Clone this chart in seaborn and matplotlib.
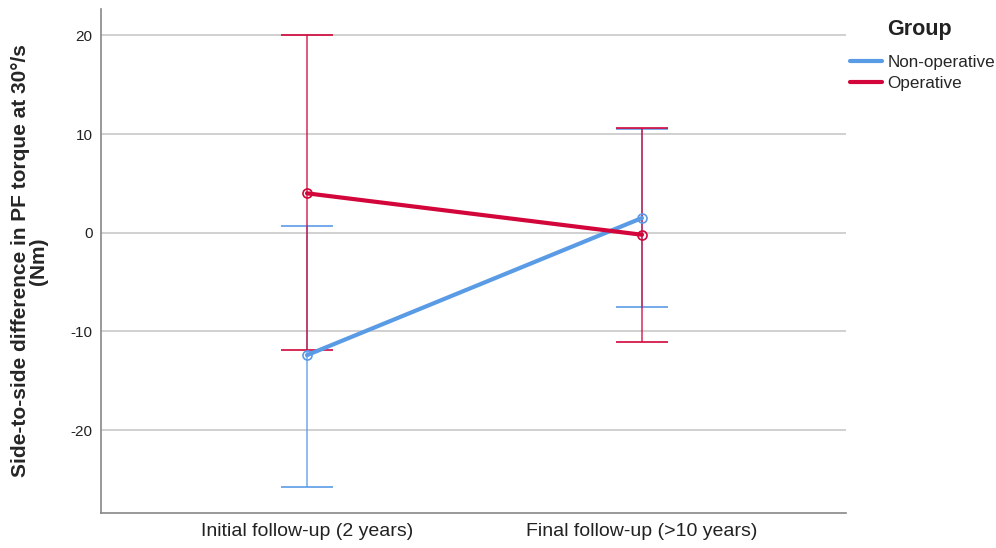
import numpy as np
import pandas as pd
import matplotlib
matplotlib.use("Agg")
import matplotlib.pyplot as plt
import seaborn as sns

# valores (média e IC 95%)
timepoints = ["Initial follow-up (2 years)", "Final follow-up (>10 years)"]
groups = ["Non-operative", "Operative"]
nonop_mean = [-12.4, 1.5]
nonop_lower = [-25.8, -7.5]
nonop_upper = [0.7, 10.5]
op_mean = [4.0, -0.2]
op_lower = [-11.9, -11.1]
op_upper = [20.0, 10.6]

colors = {"Non-operative": "#5A9BE6", "Operative": "#D2063A"}

df = pd.DataFrame({
    "Time": timepoints * 2,
    "Group": [groups[0]] * 2 + [groups[1]] * 2,
    "Mean": nonop_mean + op_mean,
    "Lower": nonop_lower + op_lower,
    "Upper": nonop_upper + op_upper,
})
df["x"] = df["Time"].map({t: i for i, t in enumerate(timepoints)})

sns.set_style("white")
plt.rcParams["font.family"] = ["Liberation Sans", "DejaVu Sans"]

fig = plt.figure(figsize=(9.96, 5.48), dpi=100)
ax = fig.add_axes([0.1014, 0.0639, 0.748, 0.920])

for y in [-20, -10, 0, 10, 20]:
    ax.axhline(y, color="#c8c8c8", lw=1.2, zorder=0)

# barras de erro
for g in groups:
    sub = df[df["Group"] == g]
    ax.errorbar(sub["x"], sub["Mean"],
                yerr=[sub["Mean"] - sub["Lower"], sub["Upper"] - sub["Mean"]],
                fmt="none", ecolor=colors[g], elinewidth=1.1, capsize=18.4,
                capthick=1.4, alpha=0.85, zorder=2)

sns.lineplot(data=df, x="x", y="Mean", hue="Group", palette=colors,
             hue_order=groups, lw=3, ax=ax, zorder=3, legend=False,
             marker="o", markersize=6.5, markerfacecolor="none",
             markeredgewidth=1.2)
for line, g in zip(ax.lines[-2:], groups):
    line.set_markeredgecolor(colors[g])

ax.set_xlim(-0.615, 1.609)
ax.set_ylim(-28.4, 22.7)
ax.set_xticks([0, 1])
ax.set_xticklabels(timepoints, fontsize=14, color="#222222")
ax.set_yticks([-20, -10, 0, 10, 20])
ax.set_yticklabels(["-20", "-10", "0", "10", "20"], fontsize=11, color="#222222")
ax.tick_params(axis="y", length=0, pad=6)
ax.tick_params(axis="x", length=0, pad=7)
ax.set_xlabel("")
ax.set_ylabel("Side-to-side difference in PF torque at 30°/s\n(Nm)",
              fontsize=15, fontweight="bold", labelpad=16, linespacing=0.95)

for s in ["top", "right"]:
    ax.spines[s].set_visible(False)
for s in ["left", "bottom"]:
    ax.spines[s].set_color("#888888")
    ax.spines[s].set_linewidth(1.2)

# legenda
fig.text(887 / 996, 1 - 30 / 548, "Group", fontsize=15.5, fontweight="bold",
         color="#222222", va="center", ha="left")
handles = [plt.Line2D([], [], color=colors[g], lw=3) for g in groups]
leg = fig.legend(handles, groups, loc="upper left",
                 bbox_to_anchor=(850 / 996, 1 - 55 / 548), frameon=False,
                 fontsize=12.3, handlelength=1.9, handletextpad=0.3,
                 labelspacing=0.35, borderpad=0, borderaxespad=0)

fig.savefig("out.png", dpi=100)
